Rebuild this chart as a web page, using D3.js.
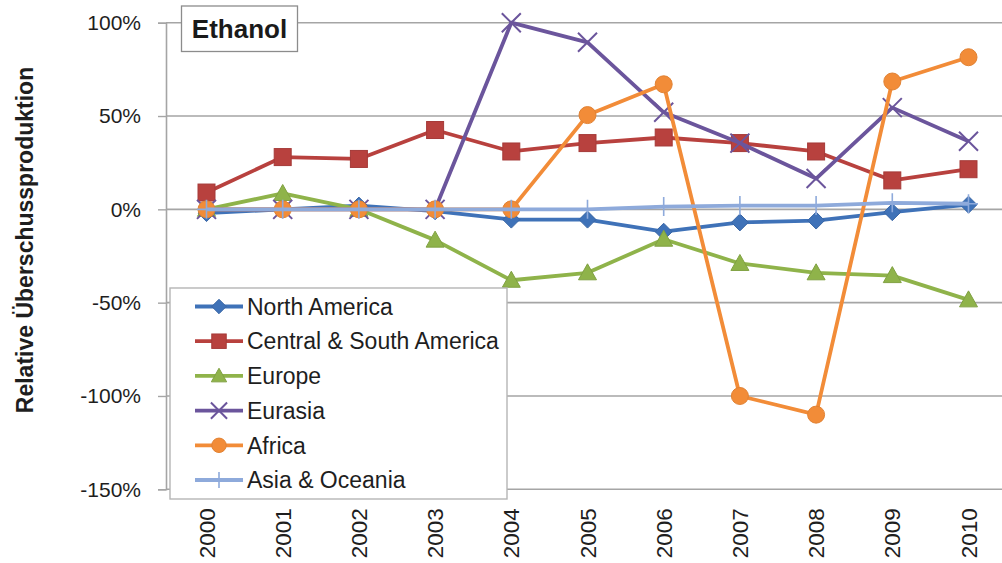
<!DOCTYPE html>
<html>
<head>
<meta charset="utf-8">
<script src="https://cdn.jsdelivr.net/npm/d3@7/dist/d3.min.js"></script>
<style>
  html, body { margin: 0; padding: 0; background: #fff; }
  svg { display: block; font-family: "Liberation Sans", Arial, sans-serif; }
</style>
</head>
<body>
<svg id="chart" width="1002" height="563"></svg>
<script>
// Ethanol: relative surplus production by world region, 2000–2010 (percent)
const years = ["2000","2001","2002","2003","2004","2005","2006","2007","2008","2009","2010"];
const seriesNames = ["North America","Central & South America","Europe","Eurasia","Africa","Asia & Oceania"];
const northAmerica = [-2, 0, 2, -1, -5.5, -5.5, -12, -7, -6, -1.5, 2.5];
const centralSouthAmerica = [9, 28, 27, 42.5, 31, 35.5, 38.5, 35.5, 31, 15.5, 21.5];
const europe = [0, 8.5, 0, -16.5, -38, -34, -16, -29, -34, -35.5, -48.5];
const eurasia = [0, 0, 0, 0, 100, 89.5, 52, 35.5, 16.5, 54.5, 36.5];
const africa = [0, 0, 0, 0, 0, 50.5, 67, -100, -110, 68.5, 81.5];
const asiaOceania = [0, 0, 0, 0, 0, 0, 1.5, 2, 2, 3.5, 3];
const yTicks = [100, 50, 0, -50, -100, -150];
const chartTitle = "Ethanol";
const yTitle = "Relative Überschussproduktion";

const seriesValues = [northAmerica, centralSouthAmerica, europe, eurasia, africa, asiaOceania];
const colors = ["#3f72b8", "#b8413e", "#8fb34a", "#6b559c", "#f28c38", "#8eaadb"];
const markers = ["diamond", "square", "triangle", "x", "circle", "plus"];

const svg = d3.select("#chart");

const x = d3.scaleBand().domain(years).range([168.4, 1006.6]);
const y = d3.scaleLinear().domain([-150, 100]).range([489.3, 22.7]);
const cx = d => x(d) + x.bandwidth() / 2;

// horizontal gridlines
svg.append("g").selectAll("line")
  .data(yTicks.filter(t => t > -150))
  .join("line")
  .attr("x1", 166).attr("x2", 1002)
  .attr("y1", d => y(d)).attr("y2", d => y(d))
  .attr("stroke", "#a5a5a5").attr("stroke-width", 1.6);

// bottom category axis line
svg.append("line")
  .attr("x1", 166).attr("x2", 1002)
  .attr("y1", y(-150)).attr("y2", y(-150))
  .attr("stroke", "#a5a5a5").attr("stroke-width", 1.6);

// value axis
const yAxis = d3.axisLeft(y).tickValues(yTicks).tickSize(8).tickPadding(17)
  .tickFormat(d => d + "%");
const yg = svg.append("g").attr("transform", "translate(166,0)").call(yAxis);
yg.select(".domain").attr("stroke", "#a5a5a5").attr("stroke-width", 1.6);
yg.selectAll(".tick line").attr("stroke", "#a5a5a5").attr("stroke-width", 1.4);
yg.selectAll(".tick text")
  .attr("font-size", 21).attr("fill", "#1e1e1e")
  .attr("font-family", "'Liberation Sans', Arial, sans-serif");

// category labels (rotated)
const xAxis = d3.axisBottom(x).tickSize(0).tickPadding(0);
const xg = svg.append("g").attr("transform", `translate(0,${y(-150)})`).call(xAxis);
xg.select(".domain").remove();
xg.selectAll(".tick text")
  .attr("font-size", 22.5).attr("fill", "#1e1e1e")
  .attr("font-family", "'Liberation Sans', Arial, sans-serif")
  .attr("text-anchor", "end")
  .attr("dy", "0.36em")
  .attr("transform", "translate(0,19) rotate(-90)");

// y-axis title
svg.append("text")
  .attr("transform", "translate(33,240) rotate(-90)")
  .attr("text-anchor", "middle")
  .attr("font-size", 23).attr("font-weight", "bold").attr("fill", "#1e1e1e")
  .text(yTitle);

// marker shapes
function drawMarker(g, type, color, s) {
  s = s || 1;
  if (type === "diamond") {
    g.append("path").attr("d", `M0,${-8.5*s}L${8.5*s},0L0,${8.5*s}L${-8.5*s},0Z`)
      .attr("fill", color).attr("stroke", d3.color(color).darker(0.3)).attr("stroke-width", 1);
  } else if (type === "square") {
    g.append("rect").attr("x", -8.5*s).attr("y", -8.5*s).attr("width", 17*s).attr("height", 17*s)
      .attr("fill", color).attr("stroke", d3.color(color).darker(0.3)).attr("stroke-width", 1);
  } else if (type === "triangle") {
    g.append("path").attr("d", `M0,${-9*s}L${9*s},${7*s}L${-9*s},${7*s}Z`)
      .attr("fill", color).attr("stroke", d3.color(color).darker(0.3)).attr("stroke-width", 1);
  } else if (type === "circle") {
    g.append("circle").attr("r", 8.5*s)
      .attr("fill", color).attr("stroke", d3.color(color).darker(0.2)).attr("stroke-width", 1);
  } else if (type === "x") {
    const r = 9.5*s;
    g.append("path").attr("d", `M${-r},${-r}L${r},${r}M${-r},${r}L${r},${-r}`)
      .attr("stroke", color).attr("stroke-width", 2).attr("fill", "none");
  } else if (type === "plus") {
    const r = 9.5*s;
    g.append("path").attr("d", `M0,${-r}L0,${r}M${-r},0L${r},0`)
      .attr("stroke", color).attr("stroke-width", 1.6).attr("fill", "none");
  }
}

// series lines and markers
const line = d3.line().x((d, i) => cx(years[i])).y(d => y(d));
seriesValues.forEach((vals, si) => {
  const g = svg.append("g");
  g.append("path").attr("d", line(vals))
    .attr("fill", "none").attr("stroke", colors[si])
    .attr("stroke-width", 3.8).attr("stroke-linejoin", "round");
  vals.forEach((v, i) => {
    const mg = g.append("g").attr("transform", `translate(${cx(years[i])},${y(v)})`);
    drawMarker(mg, markers[si], colors[si]);
  });
});

// legend
const legend = svg.append("g");
legend.append("rect")
  .attr("x", 170).attr("y", 288).attr("width", 337).attr("height", 211)
  .attr("fill", "#fff").attr("stroke", "#b5b5b5").attr("stroke-width", 1.4);
seriesNames.forEach((name, i) => {
  const ly = 306.5 + i * 34.7;
  const row = legend.append("g");
  row.append("line").attr("x1", 195).attr("x2", 243).attr("y1", ly).attr("y2", ly)
    .attr("stroke", colors[i]).attr("stroke-width", 3.8);
  const mg = row.append("g").attr("transform", `translate(219,${ly})`);
  drawMarker(mg, markers[i], colors[i], 0.85);
  row.append("text").attr("x", 247).attr("y", ly).attr("dy", "0.36em")
    .attr("font-size", 23).attr("fill", "#1e1e1e").text(name);
});

// title box
svg.append("rect")
  .attr("x", 181.5).attr("y", 6).attr("width", 116).attr("height", 45.5)
  .attr("fill", "#fff").attr("stroke", "#8c8c8c").attr("stroke-width", 1.3);
svg.append("text")
  .attr("x", 239.5).attr("y", 29).attr("dy", "0.36em").attr("text-anchor", "middle")
  .attr("font-size", 26).attr("font-weight", "bold").attr("fill", "#1a1a1a")
  .text(chartTitle);
</script>
</body>
</html>
